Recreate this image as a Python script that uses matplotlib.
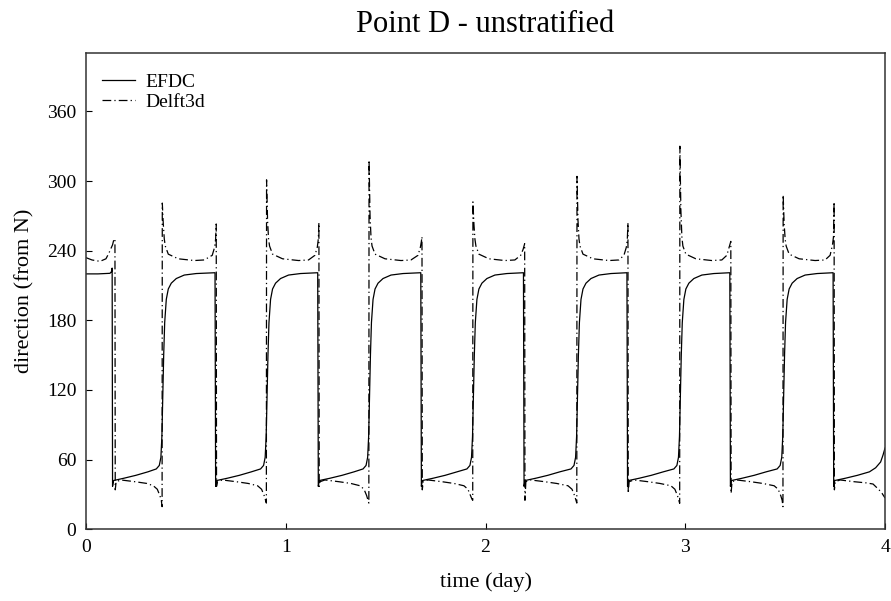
import matplotlib
matplotlib.use("Agg")
import matplotlib.pyplot as plt

plt.rcParams["font.family"] = ["Liberation Serif", "DejaVu Serif"]

# EFDC current direction (day, degrees from N)
efdc_t = [
    0.0, 0.06, 0.12, 0.128, 0.131,
    0.133, 0.138, 0.19, 0.25, 0.31, 0.352, 0.367, 0.375, 0.380, 0.384, 0.389, 0.394, 0.402, 0.412, 0.427, 0.452, 0.492, 0.552, 0.646,
    0.649, 0.654, 0.708, 0.768, 0.828, 0.874, 0.889, 0.897, 0.902, 0.906, 0.911, 0.916, 0.924, 0.934, 0.949, 0.974, 1.014, 1.074, 1.160,
    1.163, 1.168, 1.222, 1.282, 1.342, 1.387, 1.402, 1.410, 1.415, 1.419, 1.424, 1.429, 1.437, 1.447, 1.462, 1.487, 1.527, 1.587, 1.676,
    1.679, 1.684, 1.738, 1.798, 1.858, 1.907, 1.922, 1.930, 1.935, 1.939, 1.944, 1.949, 1.957, 1.967, 1.982, 2.007, 2.047, 2.107, 2.190,
    2.193, 2.198, 2.252, 2.312, 2.372, 2.428, 2.443, 2.451, 2.456, 2.460, 2.465, 2.470, 2.478, 2.488, 2.503, 2.528, 2.568, 2.628, 2.708,
    2.711, 2.716, 2.770, 2.830, 2.890, 2.943, 2.958, 2.966, 2.971, 2.975, 2.980, 2.985, 2.993, 3.003, 3.018, 3.043, 3.083, 3.143, 3.223,
    3.226, 3.231, 3.285, 3.345, 3.405, 3.460, 3.475, 3.483, 3.488, 3.492, 3.497, 3.502, 3.510, 3.520, 3.535, 3.560, 3.600, 3.660, 3.740,
    3.743, 3.748, 3.802, 3.862, 3.922, 3.953, 3.978, 3.990, 4.0,
]
efdc_v = [
    220, 220, 220.5, 222, 225,
    37, 42, 44, 46.5, 49.5, 52, 55, 62, 80, 110, 150, 178, 198, 207, 212, 216, 219, 220.3, 221,
    37, 42, 44, 46.5, 49.5, 52, 55, 62, 80, 110, 150, 178, 198, 207, 212, 216, 219, 220.3, 221,
    37, 42, 44, 46.5, 49.5, 52, 55, 62, 80, 110, 150, 178, 198, 207, 212, 216, 219, 220.3, 221,
    37, 42, 44, 46.5, 49.5, 52, 55, 62, 80, 110, 150, 178, 198, 207, 212, 216, 219, 220.3, 221,
    37, 42, 44, 46.5, 49.5, 52, 55, 62, 80, 110, 150, 178, 198, 207, 212, 216, 219, 220.3, 221,
    37, 42, 44, 46.5, 49.5, 52, 55, 62, 80, 110, 150, 178, 198, 207, 212, 216, 219, 220.3, 221,
    37, 42, 44, 46.5, 49.5, 52, 55, 62, 80, 110, 150, 178, 198, 207, 212, 216, 219, 220.3, 221,
    37, 42, 44, 46.5, 49.5, 53, 58, 64, 70,
]

# Delft3d current direction (day, degrees from N)
delft_t = [
    0.0, 0.03, 0.07, 0.10, 0.115, 0.133, 0.140, 0.145,
    0.1465, 0.151, 0.175, 0.245, 0.305, 0.337, 0.357, 0.370, 0.377, 0.381,
    0.382, 0.387, 0.392, 0.397, 0.412, 0.462, 0.542, 0.592, 0.632, 0.644, 0.649, 0.652,
    0.6535, 0.658, 0.682, 0.752, 0.812, 0.859, 0.879, 0.892, 0.899, 0.903,
    0.904, 0.909, 0.914, 0.919, 0.934, 0.984, 1.064, 1.114, 1.146, 1.158, 1.163, 1.166,
    1.1675, 1.172, 1.196, 1.266, 1.326, 1.372, 1.392, 1.405, 1.412, 1.416,
    1.417, 1.422, 1.427, 1.432, 1.447, 1.497, 1.577, 1.627, 1.662, 1.674, 1.679, 1.682,
    1.6835, 1.688, 1.712, 1.782, 1.842, 1.892, 1.912, 1.925, 1.932, 1.936,
    1.937, 1.942, 1.947, 1.952, 1.967, 2.017, 2.097, 2.147, 2.176, 2.188, 2.193, 2.196,
    2.1975, 2.202, 2.226, 2.296, 2.356, 2.413, 2.433, 2.446, 2.453, 2.457,
    2.458, 2.463, 2.468, 2.473, 2.488, 2.538, 2.618, 2.668, 2.693, 2.705, 2.710, 2.713,
    2.7145, 2.719, 2.743, 2.813, 2.873, 2.928, 2.948, 2.961, 2.968, 2.972,
    2.973, 2.978, 2.983, 2.988, 3.003, 3.053, 3.133, 3.183, 3.208, 3.220, 3.225, 3.228,
    3.2295, 3.234, 3.258, 3.328, 3.388, 3.445, 3.465, 3.478, 3.485, 3.489,
    3.490, 3.495, 3.500, 3.505, 3.520, 3.570, 3.650, 3.700, 3.725, 3.737, 3.742, 3.745,
    3.7465, 3.751, 3.775, 3.845, 3.905, 3.940, 3.970, 3.985, 4.0,
]
delft_v = [
    234, 232, 230.8, 233, 238, 245, 250, 250,
    34, 41, 42.5, 41, 39.5, 37.5, 34.5, 29, 25, 19.5,
    281, 263, 250, 244, 237, 233, 231.5, 232, 236, 243, 250, 263,
    37, 41, 42.5, 41, 39.5, 37.5, 34.5, 29, 25, 22.6,
    301, 266, 250, 244, 237, 233, 231.5, 232, 236, 243, 250, 264,
    37, 41, 42.5, 41, 39.5, 37.5, 34.5, 29, 25, 22.6,
    318, 270, 251, 244, 237, 233, 231.5, 232, 236, 243, 248, 252,
    34, 41, 42.5, 41, 39.5, 37.5, 34.5, 29, 26, 25,
    282, 263, 250, 244, 237, 233, 231.5, 232, 236, 241, 244, 246,
    25, 41, 42.5, 41, 39.5, 37.5, 34.5, 29, 25, 22.6,
    304, 266, 250, 244, 237, 233, 231.5, 232, 236, 243, 250, 264,
    31, 41, 42.5, 41, 39.5, 37.5, 34.5, 29, 25, 22.4,
    330, 275, 252, 244, 237, 233, 231.5, 232, 236, 243, 246, 248,
    31, 41, 42.5, 41, 39.5, 37.5, 34.5, 29, 25, 19.5,
    288, 263, 250, 244, 237, 233, 231.5, 232, 236, 245, 252, 282,
    34, 41, 42.5, 41, 40, 39, 34, 31, 27,
]

x_ticks = [0, 1, 2, 3, 4]
y_ticks = [0, 60, 120, 180, 240, 300, 360]

fig = plt.figure(figsize=(8.91, 6.01), dpi=100)
ax = fig.add_axes([0.0965, 0.1193, 0.8968, 0.792])

ax.plot(efdc_t, efdc_v, color="black", lw=0.9, label="EFDC")
ax.plot(delft_t, delft_v, color="black", lw=0.9, dashes=(7, 2.5, 1, 2.5), label="Delft3d")

ax.set_xlim(0, 4)
ax.set_ylim(0, 410)
ax.set_xticks(x_ticks)
ax.set_yticks(y_ticks)
ax.tick_params(direction="in", length=4.5, width=0.8, labelsize=14, pad=7)
for s in ax.spines.values():
    s.set_linewidth(1.1)
    s.set_color("#333333")

ax.set_xlabel("time (day)", fontsize=16, labelpad=12)
ax.set_ylabel("direction (from N)", fontsize=16, labelpad=9)
ax.set_title("Point D - unstratified", fontsize=22, pad=15)

ax.legend(loc="upper left", bbox_to_anchor=(0.0, 0.99), frameon=False, fontsize=14,
          handlelength=1.7, handletextpad=0.55, labelspacing=0.1, borderaxespad=0.4)

fig.savefig("out.png", dpi=100)
